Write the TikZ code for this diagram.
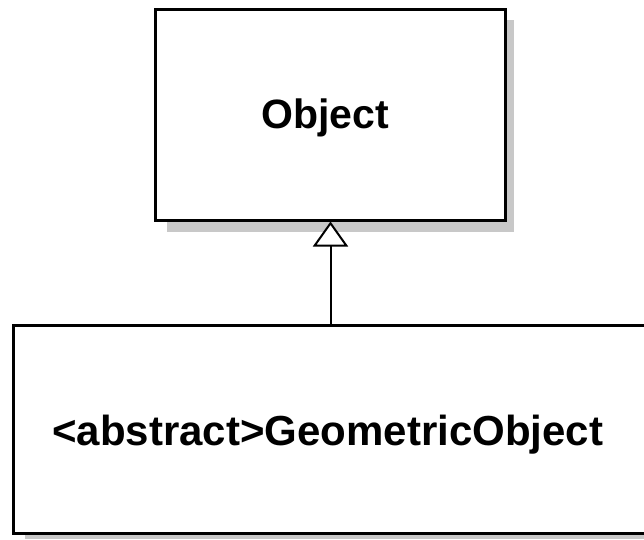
\documentclass[tikz,border=0pt]{standalone}
\usepackage{fontspec}
\setmainfont{Liberation Sans}
\usetikzlibrary{arrows.meta}
\definecolor{shadowgray}{RGB}{200,200,200}
\begin{document}
\begin{tikzpicture}[x=1pt,y=-1pt,
  classbox/.style={draw=black, line width=3pt, fill=white, rectangle, inner sep=0pt},
  boxshadow/.style={fill=shadowgray, draw=none},
  lbl/.style={inner sep=0pt, font=\bfseries},
  inherit/.style={draw=black, line width=2pt, -{Triangle[length=25pt, width=35pt, fill=white]}}]
\clip (0,0) rectangle (644,539);
\fill[white] (0,0) rectangle (644,539);
% shadows
\fill[boxshadow] (167,20) rectangle (514,232);
\fill[boxshadow] (25,336) rectangle (700,539);
% boxes
\node[classbox, minimum width=350pt, minimum height=211pt] (obj) at (330.5,114.5) {};
\node[classbox, minimum width=690pt, minimum height=208pt] (geo) at (358.5,429.5) {};
% labels
\node[lbl, anchor=base, font=\bfseries\fontsize{41}{48}\selectfont] (objlabel) at (325,128) {Object};
\node[lbl, anchor=base west, font=\bfseries\fontsize{42}{50}\selectfont] (geolabel) at (52,445) {<abstract>GeometricObject};
% connector
\draw[inherit] (obj.south |- geo.north) -- (obj.south);
\end{tikzpicture}
\end{document}
